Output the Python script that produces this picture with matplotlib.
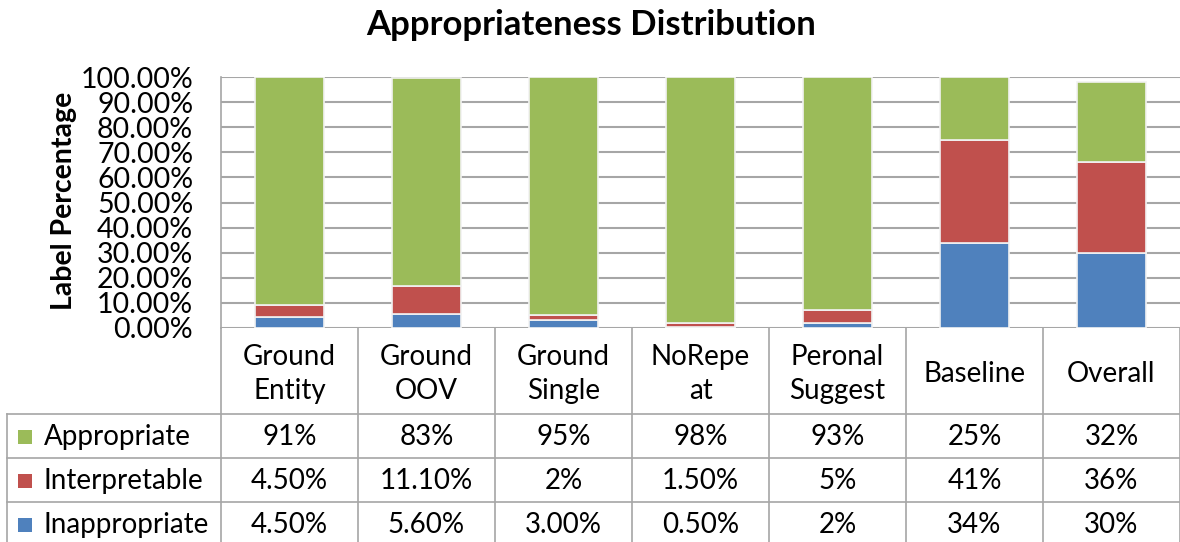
import matplotlib.pyplot as plt
import numpy as np

# ----------------- data
categories = ["Ground\nEntity", "Ground\nOOV", "Ground\nSingle", "NoRepe\nat",
              "Peronal\nSuggest", "Baseline", "Overall"]
series_names = ["Appropriate", "Interpretable", "Inappropriate"]
appropriate = [91, 83, 95, 98, 93, 25, 32]
interpretable = [4.5, 11.1, 2, 1.5, 5, 41, 36]
inappropriate = [4.5, 5.6, 3.0, 0.5, 2, 34, 30]
table_text = [
    ["91%", "83%", "95%", "98%", "93%", "25%", "32%"],
    ["4.50%", "11.10%", "2%", "1.50%", "5%", "41%", "36%"],
    ["4.50%", "5.60%", "3.00%", "0.50%", "2%", "34%", "30%"],
]
colors = {"Appropriate": "#9BBB59", "Interpretable": "#C0504D", "Inappropriate": "#4F81BD"}

plt.rcParams['font.family'] = ['Lato', 'DejaVu Sans']
W, H = 1180, 542
grid_col = "#a6a6a6"

fig = plt.figure(figsize=(W / 100, H / 100), dpi=100)

# plot area in pixel coords
px_left, px_right, px_top, px_bot = 221, 1180, 77, 328
ax = fig.add_axes([px_left / W, 1 - px_bot / H, (px_right - px_left) / W, (px_bot - px_top) / H])

x = np.arange(len(categories))
bw = 0.51
edge = dict(edgecolor="#f2f2f2", linewidth=1.2, zorder=3)
ax.bar(x, inappropriate, bw, color=colors["Inappropriate"], **edge)
bottom2 = np.array(inappropriate)
ax.bar(x, interpretable, bw, bottom=bottom2, color=colors["Interpretable"], **edge)
bottom3 = bottom2 + np.array(interpretable)
ax.bar(x, appropriate, bw, bottom=bottom3, color=colors["Appropriate"], **edge)

ax.set_xlim(-0.5, len(categories) - 0.5)
ax.set_ylim(0, 100)
ax.set_yticks(np.arange(0, 101, 10))
ax.set_yticklabels([f"{v:.2f}%" for v in np.arange(0, 101, 10)], fontsize=20.5)
ax.tick_params(axis='y', length=0, pad=20)
ax.set_xticks([])
ax.yaxis.grid(True, color=grid_col, linewidth=1.5, zorder=0)
ax.set_axisbelow(True)
for s in ["top", "right", "bottom"]:
    ax.spines[s].set_visible(False)
ax.spines["left"].set_color(grid_col)
ax.spines["left"].set_linewidth(1.2)

fig.text(591 / W, 1 - 25 / H, "Appropriateness Distribution", ha="center", va="center",
         fontsize=25, fontweight="bold")
fig.text(64 / W, 1 - 201 / H, "Label Percentage", ha="center", va="center",
         rotation=90, fontsize=20.5, fontweight="bold")

# ----------------- data table below plot
tab_left = 7
tax = fig.add_axes([tab_left / W, 0, (W - tab_left) / W, (H - px_bot) / H])
unit = (len(categories)) / (px_right - px_left)
tax.set_xlim(-0.5 - (px_left - tab_left) * unit, len(categories) - 0.5)
tax.set_ylim(H, px_bot)
tax.axis("off")

row_y = [414, 458, 502, 542]
lk = dict(color=grid_col, linewidth=1.2, clip_on=False)
# vertical lines
for i in range(len(categories) + 1):
    tax.plot([i - 0.5, i - 0.5], [px_bot, H], **lk)
x_lab = -0.5 - (px_left - tab_left) * unit
tax.plot([x_lab, x_lab], [row_y[0], H], **lk)
for yy in row_y[:3]:
    tax.plot([x_lab, len(categories) - 0.5], [yy, yy], **lk)

fs = 20
for i, c in enumerate(categories):
    tax.text(i, (px_bot + row_y[0]) / 2 + 3, c, ha="center", va="center", fontsize=fs,
             linespacing=1.42)
for r, name in enumerate(series_names):
    yc = (row_y[r] + row_y[r + 1]) / 2 if r < 2 else (row_y[r] + row_y[r] + 44) / 2
    yc += 1
    for i, t in enumerate(table_text[r]):
        tax.text(i, yc, t, ha="center", va="center", fontsize=fs)
    tax.scatter([x_lab + 18 * unit], [yc], marker="s", s=115, color=colors[name],
                edgecolor="none", clip_on=False)
    tax.text(x_lab + 37 * unit, yc, name, ha="left", va="center", fontsize=fs)

fig.savefig("out.png", dpi=100)
